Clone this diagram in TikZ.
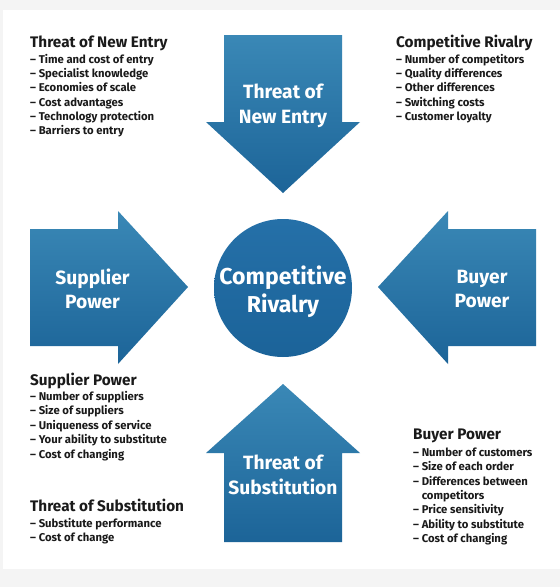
\documentclass[tikz,border=0pt]{standalone}
\usepackage{fontspec}
\setmainfont{Fira Sans}
\definecolor{bgGrey}{HTML}{F4F4F4}
\definecolor{arrTop}{HTML}{3A88B6}
\definecolor{arrBot}{HTML}{1C6498}
\definecolor{circTop}{HTML}{2570A8}
\definecolor{circBot}{HTML}{1B6399}
\definecolor{txt}{HTML}{1A1A1A}
\tikzset{
  headtxt/.style={font=\bfseries\fontsize{15.3}{17}\selectfont, text=txt, anchor=base west, inner sep=0},
  itemtxt/.style={font=\bfseries\fontsize{11.3}{13}\selectfont, text=txt, anchor=base west, inner sep=0},
  arrowshape/.style={top color=arrTop, bottom color=arrBot, draw=none},
  biglabel/.style={font=\bfseries\fontsize{19.2}{24.5}\selectfont, text=white, align=center, inner sep=0},
  circlabel/.style={font=\bfseries\fontsize{23}{28}\selectfont, text=white, align=center, inner sep=0},
}
\begin{document}
\begin{tikzpicture}[x=1pt,y=-1pt]
\useasboundingbox (0,0) rectangle (560,587);
\fill[bgGrey] (0,0) rectangle (560,587);
\fill[white] (3,10) rectangle (560,569);
% arrows
\path[arrowshape] (224,35) -- (342,35) -- (342,122) -- (360,122) -- (283,193) -- (206,122) -- (224,122) -- cycle;
\path[arrowshape] (283,384) -- (360,453) -- (342,453) -- (342,542) -- (224,542) -- (224,453) -- (206,453) -- cycle;
\path[arrowshape] (30,229) -- (118,229) -- (118,211) -- (188,287) -- (118,364) -- (118,346) -- (30,346) -- cycle;
\path[arrowshape] (378,287) -- (448,211) -- (448,229) -- (536,229) -- (536,346) -- (448,346) -- (448,364) -- cycle;
\node[circle, minimum size=138pt, inner sep=0, top color=circTop, bottom color=circBot] (cr) at (283,288) {};
% labels
\node[biglabel] (lne) at (283,106) {Threat of\\New Entry};
\node[biglabel] (lts) at (283,475) {Threat of\\Substitution};
\node[biglabel] (lsp) at (92.5,289) {Supplier\\Power};
\node[biglabel] (lbp) at (482,289) {Buyer\\Power};
\node[circlabel] (lcr) at (283,292) {Competitive\\Rivalry};
% Threat of New Entry
\node[headtxt] (hne) at (30,47) {Threat of New Entry};
\foreach \t [count=\i] in {Time and cost of entry, Specialist knowledge, Economies of scale, Cost advantages, Technology protection, Barriers to entry}
  \node[itemtxt] (ne\i) at (30,{63.5+14.2*(\i-1)}) {– \t};
% Competitive Rivalry
\node[headtxt] (hcr) at (396,47) {Competitive Rivalry};
\foreach \t [count=\i] in {Number of competitors, Quality differences, Other differences, Switching costs, Customer loyalty}
  \node[itemtxt] (cr\i) at (396,{63.5+14.2*(\i-1)}) {– \t};
% Supplier Power
\node[headtxt] (hsp) at (30,385) {Supplier Power};
\foreach \t [count=\i] in {Number of suppliers, Size of suppliers, Uniqueness of service, Your ability to substitute, Cost of changing}
  \node[itemtxt] (sp\i) at (30,{400.5+14.4*(\i-1)}) {– \t};
% Threat of Substitution
\node[headtxt] (hts) at (30,511) {Threat of Substitution};
\foreach \t [count=\i] in {Substitute performance, Cost of change}
  \node[itemtxt] (ts\i) at (30,{527.5+14*(\i-1)}) {– \t};
% Buyer Power
\node[headtxt] (hbp) at (413,439) {Buyer Power};
\foreach \t [count=\i] in {– Number of customers, – Size of each order, – Differences between, \phantom{– }competitors, – Price sensitivity, – Ability to substitute, – Cost of changing}
  \node[itemtxt] (bp\i) at (413,{456.5+14.3*(\i-1)}) {\t};
\end{tikzpicture}
\end{document}
